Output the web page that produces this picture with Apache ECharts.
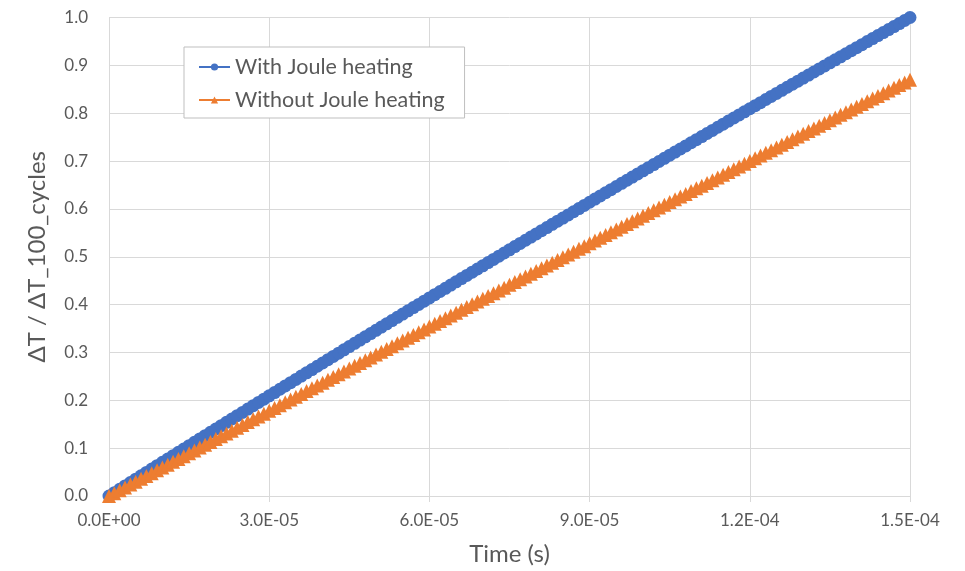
<!DOCTYPE html>
<html>
<head>
<meta charset="utf-8">
<script src="https://cdn.jsdelivr.net/npm/echarts@6/dist/echarts.min.js"></script>
<style>
html,body{margin:0;padding:0;background:#fff;}
#chart{width:965px;height:571px;}
</style>
</head>
<body>
<div id="chart"></div>
<script>
// Time in microseconds (converted to seconds below)
const timeUs = [0,1,2,3,4,5,6,7,8,9,10,11,12,13,14,15,16,17,18,19,20,21,22,23,24,25,26,27,28,29,30,31,32,33,34,35,36,37,38,39,40,41,42,43,44,45,46,47,48,49,50,51,52,53,54,55,56,57,58,59,60,61,62,63,64,65,66,67,68,69,70,71,72,73,74,75,76,77,78,79,80,81,82,83,84,85,86,87,88,89,90,91,92,93,94,95,96,97,98,99,100,101,102,103,104,105,106,107,108,109,110,111,112,113,114,115,116,117,118,119,120,121,122,123,124,125,126,127,128,129,130,131,132,133,134,135,136,137,138,139,140,141,142,143,144,145,146,147,148,149,150];

const withJoule = [0,0.0070,0.0141,0.0211,0.0282,0.0352,0.0422,0.0492,0.0563,0.0633,0.0703,0.0773,0.0843,0.0913,0.0982,0.1052,0.1122,0.1192,0.1261,0.1331,0.1400,0.1470,0.1539,0.1609,0.1678,0.1747,0.1816,0.1886,0.1955,0.2024,0.2093,0.2162,0.2231,0.2300,0.2368,0.2437,0.2506,0.2574,0.2643,0.2712,0.2780,0.2849,0.2917,0.2985,0.3054,0.3122,0.3190,0.3258,0.3326,0.3394,0.3462,0.3530,0.3598,0.3666,0.3734,0.3801,0.3869,0.3937,0.4004,0.4072,0.4139,0.4207,0.4274,0.4341,0.4409,0.4476,0.4543,0.4610,0.4677,0.4744,0.4811,0.4878,0.4945,0.5012,0.5078,0.5145,0.5212,0.5278,0.5345,0.5411,0.5478,0.5544,0.5610,0.5677,0.5743,0.5809,0.5875,0.5941,0.6007,0.6073,0.6139,0.6205,0.6271,0.6337,0.6402,0.6468,0.6534,0.6599,0.6665,0.6730,0.6796,0.6861,0.6926,0.6991,0.7057,0.7122,0.7187,0.7252,0.7317,0.7382,0.7447,0.7512,0.7576,0.7641,0.7706,0.7770,0.7835,0.7900,0.7964,0.8028,0.8093,0.8157,0.8221,0.8286,0.8350,0.8414,0.8478,0.8542,0.8606,0.8670,0.8734,0.8797,0.8861,0.8925,0.8989,0.9052,0.9116,0.9179,0.9243,0.9306,0.9369,0.9433,0.9496,0.9559,0.9622,0.9685,0.9748,0.9811,0.9874,0.9937,1.0000];

const withoutJoule = [0,0.0060,0.0119,0.0179,0.0238,0.0298,0.0358,0.0417,0.0477,0.0536,0.0596,0.0655,0.0714,0.0774,0.0833,0.0893,0.0952,0.1011,0.1070,0.1130,0.1189,0.1248,0.1307,0.1366,0.1426,0.1485,0.1544,0.1603,0.1662,0.1721,0.1780,0.1839,0.1898,0.1957,0.2016,0.2075,0.2134,0.2192,0.2251,0.2310,0.2369,0.2428,0.2486,0.2545,0.2604,0.2663,0.2721,0.2780,0.2838,0.2897,0.2956,0.3014,0.3073,0.3131,0.3190,0.3248,0.3307,0.3365,0.3423,0.3482,0.3540,0.3598,0.3657,0.3715,0.3773,0.3831,0.3890,0.3948,0.4006,0.4064,0.4122,0.4180,0.4238,0.4296,0.4354,0.4413,0.4471,0.4528,0.4586,0.4644,0.4702,0.4760,0.4818,0.4876,0.4934,0.4991,0.5049,0.5107,0.5165,0.5222,0.5280,0.5338,0.5395,0.5453,0.5511,0.5568,0.5626,0.5683,0.5741,0.5798,0.5856,0.5913,0.5970,0.6028,0.6085,0.6143,0.6200,0.6257,0.6314,0.6372,0.6429,0.6486,0.6543,0.6600,0.6658,0.6715,0.6772,0.6829,0.6886,0.6943,0.7000,0.7057,0.7114,0.7171,0.7228,0.7285,0.7342,0.7398,0.7455,0.7512,0.7569,0.7626,0.7682,0.7739,0.7796,0.7853,0.7909,0.7966,0.8022,0.8079,0.8136,0.8192,0.8249,0.8305,0.8362,0.8418,0.8474,0.8531,0.8587,0.8644,0.8700];

const seriesNames = ['With Joule heating', 'Without Joule heating'];
const xAxisTitle = 'Time (s)';
const yAxisTitle = 'ΔT / ΔT_100_cycles';

function sciFmt(v) {
  if (Math.abs(v) < 1e-12) return '0.0E+00';
  const s = v.toExponential(1).toUpperCase();
  const parts = s.split('E');
  let exp = parseInt(parts[1], 10);
  const sign = exp < 0 ? '-' : '+';
  exp = Math.abs(exp);
  return parts[0] + 'E' + sign + (exp < 10 ? '0' + exp : '' + exp);
}

const d1 = timeUs.map((t, i) => [t * 1e-6, withJoule[i]]);
const d2 = timeUs.map((t, i) => [t * 1e-6, withoutJoule[i]]);

const FONT = 'Lato';
const TXT = '#595959';
const GRID = '#d9d9d9';

const chart = echarts.init(document.getElementById('chart'), null, {renderer: 'canvas'});
chart.setOption({
  animation: false,
  backgroundColor: '#ffffff',
  grid: {left: 109, right: 55, top: 17.5, bottom: 71, containLabel: false},
  legend: {
    orient: 'vertical',
    left: 184, top: 47,
    padding: [9, 20, 7, 14],
    itemGap: 11,
    itemWidth: 31, itemHeight: 9,
    backgroundColor: '#ffffff',
    borderColor: '#bfbfbf', borderWidth: 1,
    textStyle: {fontFamily: FONT, fontSize: 21.5, color: TXT},
    data: seriesNames
  },
  xAxis: {
    type: 'value',
    min: 0, max: 1.5e-4, interval: 3e-5,
    name: xAxisTitle, nameLocation: 'middle', nameGap: 46,
    nameTextStyle: {fontFamily: FONT, fontSize: 24, color: TXT},
    axisLine: {show: true, lineStyle: {color: GRID, width: 1}},
    axisTick: {show: true, length: 6, lineStyle: {color: GRID}},
    axisLabel: {fontFamily: FONT, fontSize: 17, color: TXT, margin: 16, formatter: sciFmt},
    splitLine: {show: true, lineStyle: {color: GRID, width: 1}}
  },
  yAxis: {
    type: 'value',
    min: 0, max: 1.0, interval: 0.1,
    name: yAxisTitle, nameLocation: 'middle', nameGap: 60, nameRotate: 90,
    nameTextStyle: {fontFamily: FONT, fontSize: 24, color: TXT},
    axisLine: {show: true, lineStyle: {color: GRID, width: 1}},
    axisTick: {show: false},
    axisLabel: {fontFamily: FONT, fontSize: 17, color: TXT, margin: 21, formatter: v => v.toFixed(1)},
    splitLine: {show: true, lineStyle: {color: GRID, width: 1}}
  },
  series: [
    {
      name: seriesNames[0], type: 'line', data: d1,
      symbol: 'circle', symbolSize: 13, showAllSymbol: true,
      itemStyle: {color: '#4472C4'},
      lineStyle: {color: '#4472C4', width: 2.5},
      z: 2
    },
    {
      name: seriesNames[1], type: 'line', data: d2,
      symbol: 'triangle', symbolSize: 14, showAllSymbol: true,
      itemStyle: {color: '#ED7D31'},
      lineStyle: {color: '#ED7D31', width: 2.5},
      z: 3
    }
  ]
});
</script>
</body>
</html>
